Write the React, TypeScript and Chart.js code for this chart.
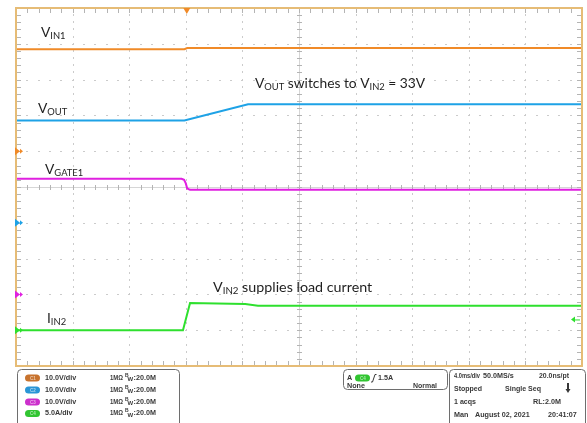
import React, { useEffect, useRef } from "react";
import { Chart, registerables } from "chart.js";
Chart.register(...registerables);

// ---------- data (time in ms, 4.0 ms/div, trigger at t = 0) ----------
const TIME_MIN = -12;
const TIME_MAX = 28;
const TIME_PER_DIV = 4;
const DIVS = 10;

const vin1Time = [-12, -0.1, 0.1, 28];
const vin1Volts = [28.5, 28.5, 28.8, 28.8];

const voutTime = [-12, -0.1, 4.4, 28];
const voutVolts = [28.6, 28.6, 33.1, 33.1];

const vgateTime = [-12, -0.3, -0.12, 0.0, 0.1, 0.3, 28];
const vgateVolts = [32.3, 32.3, 32.0, 31.0, 29.6, 29.2, 29.2];

const iin2Time = [-12, -6, -0.2, 0.3, 4.2, 5.1, 28];
const iin2Amps = [0.0, 0.0, 0.0, 3.8, 3.65, 3.42, 3.42];

// channel settings
const channelNames = ["C1", "C2", "C3", "C4"];
const channelPerDiv = [10, 10, 10, 5];
const channelGroundDiv = [1, -1, -3, -4];
const channelColors = ["#f08a28", "#1ea2e6", "#e020e0", "#2ee02e"];
const badgeColors = ["#c8732e", "#2a95d6", "#cc2fcc", "#31c531"];
const channelScaleText = ["10.0V/div", "10.0V/div", "10.0V/div", "5.0A/div"];
const triggerLevel = 1.5;

const FONT = "Lato, 'Open Sans', sans-serif";
const PFONT = "'Liberation Sans', Arial, sans-serif";

function rich(ctx: CanvasRenderingContext2D, x: number, y: number, parts: [string, boolean][], size: number) {
  let cx = x;
  for (const [t, sub] of parts) {
    ctx.font = `${sub ? size * 0.68 : size}px ${FONT}`;
    ctx.fillText(t, cx, sub ? y + size * 0.17 : y);
    cx += ctx.measureText(t).width;
  }
}

const scopePlugin = {
  id: "scope",
  beforeDatasetsDraw(chart: any) {
    const { ctx, chartArea: a, scales } = chart;
    const xs = scales.x;
    const ys = scales.y1;
    const xDiv = (k: number) => xs.getPixelForValue(TIME_MIN + k * TIME_PER_DIV);
    const yDiv = (k: number) => ys.getPixelForValue(ys.min + k * channelPerDiv[0]);
    ctx.save();
    ctx.fillStyle = "#ffffff";
    ctx.fillRect(a.left, a.top, a.right - a.left, a.bottom - a.top);
    // dotted grid
    ctx.fillStyle = "#cbcbcb";
    for (let j = 1; j < DIVS; j++) {
      if (j === 5) continue;
      const y = Math.round(yDiv(j));
      for (let m = 1; m < DIVS * 5; m++) {
        const x = Math.round(xDiv(m / 5));
        ctx.fillRect(x - 1, y, 2, 1);
      }
    }
    for (let j = 1; j < DIVS; j++) {
      if (j === 5) continue;
      const x = Math.round(xDiv(j));
      for (let m = 1; m < DIVS * 5; m++) {
        const y = Math.round(yDiv(m / 5));
        ctx.fillRect(x, y - 1, 1, 2);
      }
    }
    // center lines
    const cx = Math.round(xDiv(5)) + 0.5;
    const cy = Math.round(yDiv(5)) + 0.5;
    ctx.strokeStyle = "#d6d6d6";
    ctx.lineWidth = 1;
    ctx.beginPath();
    ctx.moveTo(a.left, cy); ctx.lineTo(a.right, cy);
    ctx.moveTo(cx, a.top); ctx.lineTo(cx, a.bottom);
    ctx.stroke();
    ctx.strokeStyle = "#b4b4b4";
    ctx.beginPath();
    for (let m = 1; m < DIVS * 5; m++) {
      const x = Math.round(xDiv(m / 5)) + 0.5;
      ctx.moveTo(x, cy - 2.5); ctx.lineTo(x, cy + 2.5);
      ctx.moveTo(x, a.top); ctx.lineTo(x, a.top + 5);
      ctx.moveTo(x, a.bottom); ctx.lineTo(x, a.bottom - 5);
      const y = Math.round(yDiv(m / 5)) + 0.5;
      ctx.moveTo(cx - 2.5, y); ctx.lineTo(cx + 2.5, y);
      ctx.moveTo(a.left, y); ctx.lineTo(a.left + 5, y);
      ctx.moveTo(a.right, y); ctx.lineTo(a.right - 5, y);
    }
    ctx.stroke();
    ctx.restore();
  },
  afterDatasetsDraw(chart: any) {
    const { ctx, chartArea: a, scales } = chart;
    const xs = scales.x;
    ctx.save();
    // frame
    ctx.strokeStyle = "#e6bc76";
    ctx.lineWidth = 2;
    ctx.strokeRect(a.left, a.top, a.right - a.left, a.bottom - a.top);

    // trigger position marker (top)
    const tx = xs.getPixelForValue(0) + 1;
    ctx.fillStyle = channelColors[0];
    ctx.beginPath();
    ctx.moveTo(tx - 3.5, a.top); ctx.lineTo(tx + 3.5, a.top); ctx.lineTo(tx, a.top + 6); ctx.closePath();
    ctx.fill();

    // channel ground markers (left)
    ["y1", "y2", "y3", "y4"].forEach((id, i) => {
      const y = scales[id].getPixelForValue(0);
      ctx.fillStyle = channelColors[i];
      ctx.beginPath();
      ctx.moveTo(a.left - 1, y - 4); ctx.lineTo(a.left + 4, y); ctx.lineTo(a.left - 1, y + 4); ctx.closePath();
      ctx.fill();
      ctx.beginPath();
      ctx.moveTo(a.left + 4, y - 2.5); ctx.lineTo(a.left + 7, y); ctx.lineTo(a.left + 4, y + 2.5); ctx.closePath();
      ctx.fill();
    });
    // trigger level marker (right)
    {
      const y = scales.y4.getPixelForValue(triggerLevel);
      const x = a.right - 11;
      ctx.fillStyle = channelColors[3];
      ctx.strokeStyle = channelColors[3];
      ctx.beginPath();
      ctx.moveTo(x, y); ctx.lineTo(x + 4, y - 3); ctx.lineTo(x + 4, y + 3); ctx.closePath();
      ctx.fill();
      ctx.lineWidth = 1;
      ctx.beginPath(); ctx.moveTo(x + 4, y + 0.5); ctx.lineTo(x + 9, y + 0.5); ctx.stroke();
    }

    // annotations
    ctx.fillStyle = "#1e1e1e";
    ctx.textBaseline = "alphabetic";
    ctx.textAlign = "left";
    const S = 13.8;
    rich(ctx, 41, 37, [["V", false], ["IN1", true]], S);
    rich(ctx, 38, 113, [["V", false], ["OUT", true]], S);
    rich(ctx, 45, 173.5, [["V", false], ["GATE1", true]], S);
    rich(ctx, 47, 323, [["I", false], ["IN2", true]], S);
    rich(ctx, 255, 88, [["V", false], ["OUT", true], [" switches to V", false], ["IN2", true], [" = 33V", false]], S);
    rich(ctx, 213, 292, [["V", false], ["IN2", true], [" supplies load current", false]], 14.3);

    // ---------- bottom panel ----------
    ctx.strokeStyle = "#6e6e6e";
    ctx.lineWidth = 1;
    ctx.beginPath(); ctx.roundRect(17.5, 369.5, 162, 60, 4); ctx.stroke();
    ctx.beginPath(); ctx.roundRect(343.5, 369.5, 104, 20, 4); ctx.stroke();
    ctx.beginPath(); ctx.roundRect(449.5, 369.5, 136, 60, 4); ctx.stroke();

    ctx.textBaseline = "middle";
    const rowY = [378, 390, 402, 413.5];
    const TXT = "#383838";
    channelNames.forEach((n, i) => {
      const y = rowY[i];
      ctx.fillStyle = badgeColors[i];
      ctx.beginPath(); ctx.roundRect(25, y - 3.5, 15, 7, 3.5); ctx.fill();
      ctx.fillStyle = "rgba(255,255,255,0.6)";
      ctx.font = `bold 4.5px ${PFONT}`;
      ctx.fillText(n, 30, y + 0.3);
      ctx.fillStyle = TXT;
      ctx.font = `bold 7.2px ${PFONT}`;
      ctx.fillText(channelScaleText[i], 45, y, 32);
      ctx.fillText("1MΩ", 110, y, 13);
      ctx.font = `bold 5px ${PFONT}`;
      ctx.fillText("B", 125, y - 2.5);
      ctx.font = `bold 6px ${PFONT}`;
      ctx.fillText("W", 127.5, y + 1.5);
      ctx.font = `bold 7.2px ${PFONT}`;
      ctx.fillText(":20.0M", 133.5, y, 25);
    });

    // trigger box
    ctx.fillStyle = TXT;
    ctx.font = `bold 7.2px ${PFONT}`;
    ctx.fillText("A", 347, 378);
    ctx.fillStyle = badgeColors[3];
    ctx.beginPath(); ctx.roundRect(355, 374.5, 15, 7, 3.5); ctx.fill();
    ctx.fillStyle = "rgba(255,255,255,0.6)";
    ctx.font = `bold 4.5px ${PFONT}`;
    ctx.fillText("C4", 360, 378.3);
    ctx.strokeStyle = TXT;
    ctx.lineWidth = 1;
    ctx.beginPath();
    ctx.moveTo(371, 382); ctx.lineTo(372.5, 382); ctx.lineTo(375, 374.5); ctx.lineTo(376.5, 374.5);
    ctx.stroke();
    ctx.fillStyle = TXT;
    ctx.font = `bold 7.2px ${PFONT}`;
    ctx.fillText("1.5A", 378, 378);
    ctx.fillText("None", 347, 386);
    ctx.fillText("Normal", 413, 386, 24);

    // acquisition box
    ctx.fillText("4.0ms/div", 454, 376, 26);
    ctx.fillText("50.0MS/s", 483, 376, 31);
    ctx.fillText("20.0ns/pt", 539, 376, 30);
    ctx.fillText("Stopped", 454, 389.5, 28);
    ctx.fillText("Single Seq", 505, 389.5, 36);
    ctx.fillText("1 acqs", 454, 402, 22);
    ctx.fillText("RL:2.0M", 533, 402, 28);
    ctx.fillText("Man", 454, 415.5, 15);
    ctx.fillText("August 02, 2021", 475, 415.5, 58);
    ctx.fillText("20:41:07", 548, 415.5, 29);
    // stop indicator
    ctx.fillRect(567, 383, 2, 7);
    ctx.beginPath(); ctx.moveTo(565.5, 389); ctx.lineTo(570.5, 389); ctx.lineTo(568, 393); ctx.closePath(); ctx.fill();

    ctx.restore();
  },
};

function toPoints(t: number[], v: number[]) {
  return t.map((x, i) => ({ x, y: v[i] }));
}

function yScale(i: number) {
  return {
    type: "linear" as const,
    display: false,
    min: (-DIVS / 2 - channelGroundDiv[i]) * channelPerDiv[i],
    max: (DIVS / 2 - channelGroundDiv[i]) * channelPerDiv[i],
  };
}

export default function App() {
  const ref = useRef<HTMLCanvasElement>(null);
  useEffect(() => {
    if (!ref.current) return;
    const mk = (label: string, t: number[], v: number[], i: number) => ({
      label,
      data: toPoints(t, v),
      yAxisID: `y${i + 1}`,
      borderColor: channelColors[i],
      backgroundColor: channelColors[i],
      borderWidth: 2,
      pointRadius: 0,
      tension: 0,
      fill: false,
    });
    const chart = new Chart(ref.current, {
      type: "line",
      data: {
        datasets: [
          mk("VIN1", vin1Time, vin1Volts, 0),
          mk("VOUT", voutTime, voutVolts, 1),
          mk("VGATE1", vgateTime, vgateVolts, 2),
          mk("IIN2", iin2Time, iin2Amps, 3),
        ],
      },
      options: {
        animation: false,
        responsive: false,
        devicePixelRatio: 1,
        layout: { padding: { left: 16, top: 8, right: 5, bottom: 57 } },
        plugins: { legend: { display: false }, tooltip: { enabled: false } },
        scales: {
          x: { type: "linear", display: false, min: TIME_MIN, max: TIME_MAX },
          y1: yScale(0),
          y2: yScale(1),
          y3: yScale(2),
          y4: yScale(3),
        },
      },
      plugins: [scopePlugin],
    });
    return () => chart.destroy();
  }, []);
  return (
    <div style={{ position: "fixed", left: 0, top: 0, width: 587, height: 423, background: "#fff" }}>
      <canvas ref={ref} width={587} height={423} style={{ display: "block" }} />
    </div>
  );
}
